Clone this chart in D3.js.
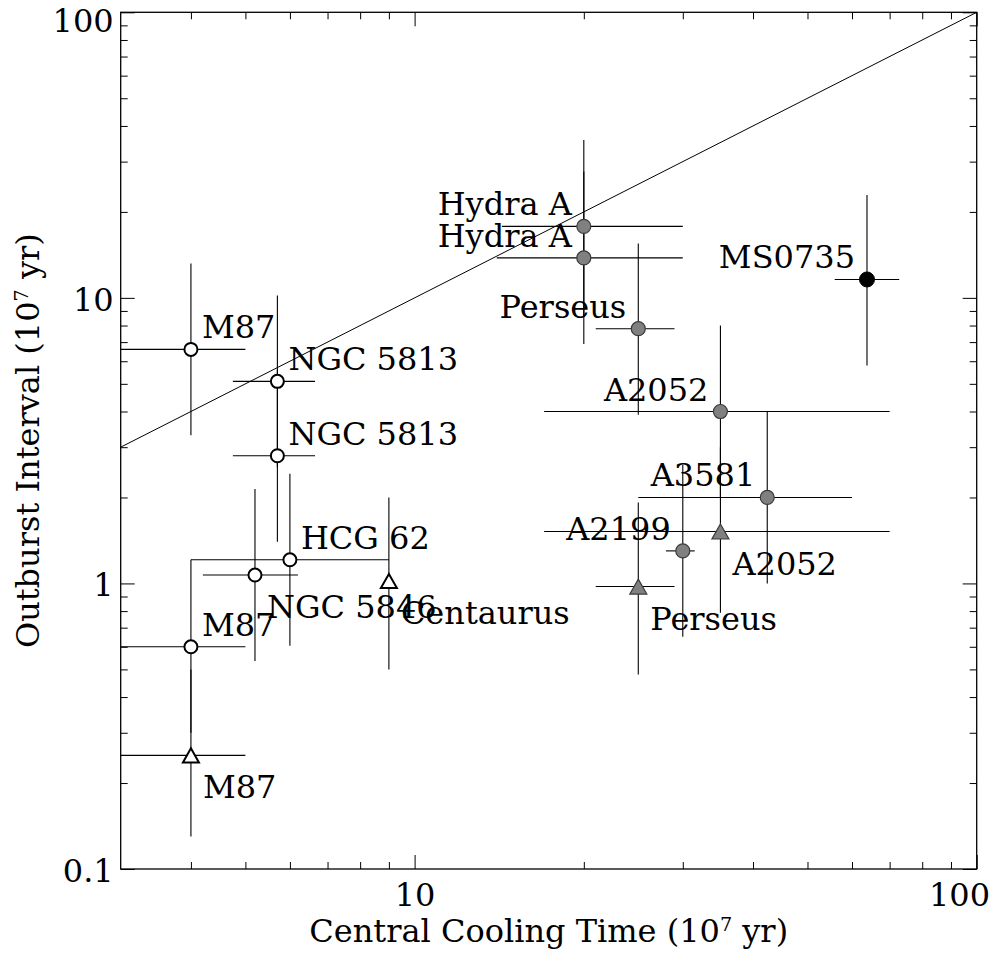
<!DOCTYPE html>
<html>
<head>
<meta charset="utf-8">
<script src="https://cdn.jsdelivr.net/npm/d3@7"></script>
<style>
  html, body { margin: 0; padding: 0; background: #fff; }
  svg { display: block; }
  text { font-family: "DejaVu Serif", serif; fill: #000; }
</style>
</head>
<body>
<svg id="chart" width="995" height="958"></svg>
<script>
// ---------------- data ----------------
const names   = ["M87", "NGC 5813", "NGC 5813", "HCG 62", "NGC 5846", "M87",
                 "Centaurus", "M87",
                 "Hydra A", "Hydra A", "Perseus", "A2052", "A3581", "A2199",
                 "A2052", "Perseus", "MS0735"];
const coolT   = [4.0, 5.7, 5.7, 6.0, 5.2, 4.0,   9.0, 4.0,   20, 20, 25, 35, 42.4, 30,   35, 25,   63.8];
const coolLo  = [3.0, 4.75, 4.75, 4.0, 4.2, 3.0, 9.0, 3.0,   14.3, 14.0, 21, 17, 25, 28,  17, 21,   55.9];
const coolHi  = [5.0, 6.65, 6.65, 9.0, 6.2, 5.0, 9.0, 5.0,   30, 30, 29, 70, 60, 31.5,    70, 29,   72.8];
const interval   = [6.6, 5.1, 2.8, 1.21, 1.07, 0.60,  1.02, 0.25,  17.8, 13.8, 7.8, 4.0, 2.0, 1.3,  1.52, 0.975,  11.6];
const intervalLo = [3.3, 2.55, 1.4, 0.605, 0.535, 0.30, 0.50, 0.13, 8.6, 6.9, 3.9, 2.0, 1.0, 0.65, 0.79, 0.48, 5.8];
const intervalHi = [13.2, 10.2, 5.6, 2.42, 2.14, 1.21, 2.0, 0.50, 27.7, 35.7, 15.5, 8.0, 4.0, 2.6, 3.0, 1.92, 22.9];
const markerKind = ["openCircle","openCircle","openCircle","openCircle","openCircle","openCircle",
                    "openTriangle","openTriangle",
                    "grayCircle","grayCircle","grayCircle","grayCircle","grayCircle","grayCircle",
                    "grayTriangle","grayTriangle","blackCircle"];
const labelSide  = ["ur","ur","ur","ur","lr","ur",  "lr","lr",  "ul","ul","ul","ul","ul","ul",  "lr","lr",  "ul"];

const xMajorTicks = [10, 100];
const xMajorLabels = ["10", "100"];
const xMinorTicks = [4,5,6,7,8,9,20,30,40,50,60,70,80,90];
const yMajorTicks = [0.1, 1, 10, 100];
const yMajorLabels = ["0.1", "1", "10", "100"];
const yMinorTicks = [0.2,0.3,0.4,0.5,0.6,0.7,0.8,0.9,2,3,4,5,6,7,8,9,20,30,40,50,60,70,80,90];
const xDomain = [3, 100];
const yDomain = [0.1, 100];
const oneToOne = [3, 100];

// ---------------- layout ----------------
const W = 995, H = 958;
const L = 120.7, R = 976.7, T = 12.3, B = 869;
const FS = 32;
const svg = d3.select("#chart");

const x = d3.scaleLog().domain(xDomain).range([L, R]);
const y = d3.scaleLog().domain(yDomain).range([B, T]);

const pts = names.map((n, i) => ({
  name: n, x: coolT[i], xlo: coolLo[i], xhi: coolHi[i],
  y: interval[i], ylo: intervalLo[i], yhi: intervalHi[i],
  kind: markerKind[i], side: labelSide[i]
}));

svg.append("defs").append("clipPath").attr("id", "clip")
  .append("rect").attr("x", L).attr("y", T).attr("width", R - L).attr("height", B - T);

const plot = svg.append("g").attr("clip-path", "url(#clip)");

// 1:1 line
plot.append("path")
  .datum(oneToOne)
  .attr("d", d3.line().x(d => x(d)).y(d => y(d)))
  .attr("stroke", "#000").attr("stroke-width", 1).attr("fill", "none");

// error bars
const eb = plot.append("g").attr("stroke", "#000").attr("stroke-width", 1.1);
eb.selectAll("line.h").data(pts).join("line").attr("class", "h")
  .attr("x1", d => x(d.xlo)).attr("x2", d => x(d.xhi))
  .attr("y1", d => y(d.y)).attr("y2", d => y(d.y));
eb.selectAll("line.v").data(pts).join("line").attr("class", "v")
  .attr("x1", d => x(d.x)).attr("x2", d => x(d.x))
  .attr("y1", d => y(d.ylo)).attr("y2", d => y(d.yhi));

// markers
const triangleUp = {
  draw(ctx, size) {
    const w = Math.sqrt(size) / 2, h = w * 0.88;
    ctx.moveTo(0, -h); ctx.lineTo(w, h); ctx.lineTo(-w, h); ctx.closePath();
  }
};
const style = {
  openCircle:   {type: d3.symbolCircle, size: Math.PI * 6.5 * 6.5, fill: "#fff", stroke: "#000", sw: 2},
  openTriangle: {type: triangleUp, size: 16 * 16, fill: "#fff", stroke: "#000", sw: 2},
  grayCircle:   {type: d3.symbolCircle, size: Math.PI * 7 * 7, fill: "#808080", stroke: "#3a3a3a", sw: 1.2},
  grayTriangle: {type: triangleUp, size: 17 * 17, fill: "#808080", stroke: "#3a3a3a", sw: 1.2},
  blackCircle:  {type: d3.symbolCircle, size: Math.PI * 7.5 * 7.5, fill: "#000", stroke: "#000", sw: 1}
};
svg.append("g").selectAll("path").data(pts).join("path")
  .attr("transform", d => `translate(${x(d.x)},${y(d.y)})`)
  .attr("d", d => d3.symbol().type(style[d.kind].type).size(style[d.kind].size)())
  .attr("fill", d => style[d.kind].fill)
  .attr("stroke", d => style[d.kind].stroke)
  .attr("stroke-width", d => style[d.kind].sw);

// point labels
const offs = { ur: [11, -11, "start"], ul: [-12, -11, "end"], lr: [12, 43, "start"] };
svg.append("g").selectAll("text").data(pts).join("text")
  .attr("x", d => x(d.x) + offs[d.side][0])
  .attr("y", d => y(d.y) + offs[d.side][1])
  .attr("text-anchor", d => offs[d.side][2])
  .attr("font-size", FS)
  .text(d => d.name);

// axes (inward ticks on all four sides)
function styleAxis(g) {
  g.select(".domain").remove();
  g.selectAll(".tick line").attr("stroke", "#000").attr("stroke-width", 1);
  g.selectAll(".tick text").attr("font-family", "DejaVu Serif").attr("font-size", FS).attr("fill", "#000");
}
const xMajorFmt = v => xMajorLabels[xMajorTicks.indexOf(v)];
const yMajorFmt = v => yMajorLabels[yMajorTicks.indexOf(v)];

const xAxisG = svg.append("g").attr("transform", `translate(0,${B})`)
  .call(d3.axisBottom(x).tickValues(xMajorTicks).tickFormat(xMajorFmt).tickSize(-14).tickPadding(14))
  .call(styleAxis);
svg.append("g").attr("transform", `translate(0,${B})`)
  .call(d3.axisBottom(x).tickValues(xMinorTicks).tickFormat("").tickSize(-7)).call(styleAxis);
svg.append("g").attr("transform", `translate(0,${T})`)
  .call(d3.axisTop(x).tickValues(xMajorTicks).tickFormat("").tickSize(-14)).call(styleAxis);
svg.append("g").attr("transform", `translate(0,${T})`)
  .call(d3.axisTop(x).tickValues(xMinorTicks).tickFormat("").tickSize(-7)).call(styleAxis);

const yAxisG = svg.append("g").attr("transform", `translate(${L},0)`)
  .call(d3.axisLeft(y).tickValues(yMajorTicks).tickFormat(yMajorFmt).tickSize(-14).tickPadding(7))
  .call(styleAxis);
yAxisG.selectAll(".tick text").attr("dy", "0.38em");
svg.append("g").attr("transform", `translate(${L},0)`)
  .call(d3.axisLeft(y).tickValues(yMinorTicks).tickFormat("").tickSize(-7)).call(styleAxis);
svg.append("g").attr("transform", `translate(${R},0)`)
  .call(d3.axisRight(y).tickValues(yMajorTicks).tickFormat("").tickSize(-14)).call(styleAxis);
svg.append("g").attr("transform", `translate(${R},0)`)
  .call(d3.axisRight(y).tickValues(yMinorTicks).tickFormat("").tickSize(-7)).call(styleAxis);

// keep tick labels inside the figure (as in the reference)
xAxisG.selectAll(".tick text").each(function() {
  const bb = this.getBBox();
  const tr = this.parentNode.getCTM();
  const right = tr.e + bb.x + bb.width;
  if (right > W - 5) d3.select(this).attr("x", (W - 5) - right);
});
yAxisG.selectAll(".tick text").each(function() {
  const bb = this.getBBox();
  const tr = this.parentNode.getCTM();
  const top = tr.f + bb.y;
  if (top < 2) d3.select(this).attr("y", 2 - top);
});

// frame
svg.append("rect").attr("x", L).attr("y", T).attr("width", R - L).attr("height", B - T)
  .attr("fill", "none").attr("stroke", "#000").attr("stroke-width", 1.3);

// axis titles
const SUP = 0.6, SUPDY = 11;
const xt = svg.append("text").attr("x", (L + R) / 2).attr("y", 942)
  .attr("text-anchor", "middle").attr("font-size", FS);
xt.append("tspan").text("Central Cooling Time (10");
xt.append("tspan").attr("font-size", FS * SUP).attr("dy", -SUPDY).text("7");
xt.append("tspan").attr("dy", SUPDY).text(" yr)");

const yt = svg.append("text")
  .attr("transform", `translate(39,${(T + B) / 2}) rotate(-90)`)
  .attr("text-anchor", "middle").attr("font-size", FS);
yt.append("tspan").text("Outburst Interval (10");
yt.append("tspan").attr("font-size", FS * SUP).attr("dy", -SUPDY).text("7");
yt.append("tspan").attr("dy", SUPDY).text(" yr)");
</script>
</body>
</html>
